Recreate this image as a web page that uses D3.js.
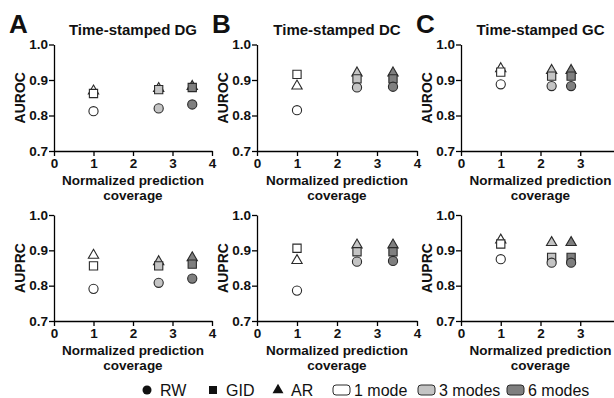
<!DOCTYPE html>
<html>
<head>
<meta charset="utf-8">
<script src="https://cdn.jsdelivr.net/npm/d3@7"></script>
<style>
  body { margin: 0; background: #fff; }
  svg { display: block; font-family: "Liberation Sans", Arial, sans-serif; }
</style>
</head>
<body>
<div id="chart"></div>
<script>
// panels and legend entries
const panelLetters = ['A', 'B', 'C'];
const panelTitles = ['Time-stamped DG', 'Time-stamped DC', 'Time-stamped GC'];
const methods = ['RW', 'GID', 'AR'];
const modes = ['1 mode', '3 modes', '6 modes'];
const modeColors = ['#ffffff', '#c4c4c4', '#7f7f7f'];

// normalized prediction coverage per panel, one value per mode
const coverage = [
  [1, 2.65, 3.5],
  [1, 2.5, 3.4],
  [1, 2.28, 2.77],
];

// AUROC [panel][mode]
const aurocRW = [[0.812, 0.820, 0.831], [0.815, 0.879, 0.881], [0.888, 0.883, 0.883]];
const aurocGID = [[0.862, 0.873, 0.879], [0.916, 0.903, 0.903], [0.922, 0.911, 0.911]];
const aurocAR = [[0.869, 0.876, 0.882], [0.883, 0.920, 0.920], [0.932, 0.927, 0.927]];

// AUPRC [panel][mode]
const auprcRW = [[0.791, 0.808, 0.820], [0.786, 0.868, 0.870], [0.875, 0.865, 0.865]];
const auprcGID = [[0.856, 0.856, 0.861], [0.906, 0.896, 0.896], [0.918, 0.880, 0.880]];
const auprcAR = [[0.886, 0.868, 0.879], [0.871, 0.915, 0.915], [0.929, 0.922, 0.922]];

const yTicks = [0.7, 0.8, 0.9, 1.0];
const xTicksFull = [0, 1, 2, 3, 4];
const xTicksC = [0, 1, 2, 3];

const width = 614, height = 398;

const svg = d3.select('#chart')
  .append('svg')
  .attr('width', width)
  .attr('height', height);

svg.append('rect').attr('width', width).attr('height', height).attr('fill', '#fff');

// pixel frame of each panel (left axis x, right end of 0..4)
const panelX = [[54, 212], [257, 417], [461, 620]];
const rowY = [[151, 44.5], [321, 215]];
const rowLabels = ['AUROC', 'AUPRC'];
const rowData = [
  { RW: aurocRW, GID: aurocGID, AR: aurocAR },
  { RW: auprcRW, GID: auprcGID, AR: auprcAR },
];

const symbolOf = {
  RW: d3.symbol().type(d3.symbolCircle).size(66),
  GID: d3.symbol().type(d3.symbolSquare).size(68),
  AR: d3.symbol().type(d3.symbolTriangle).size(46),
};

function drawPanel(p, r) {
  const x = d3.scaleLinear().domain([0, 4]).range(panelX[p]);
  const y = d3.scaleLinear().domain([0.7, 1.0]).range(rowY[r]);
  const g = svg.append('g');

  const yAxis = d3.axisLeft(y).tickValues(yTicks).tickFormat(d3.format('.1f'))
    .tickSize(5).tickSizeOuter(0).tickPadding(1);
  const xAxis = d3.axisBottom(x).tickValues(p === 2 ? xTicksC : xTicksFull)
    .tickFormat(d3.format('d'))
    .tickSize(5).tickSizeOuter(0).tickPadding(2);

  const ya = g.append('g').attr('transform', `translate(${x(0)},0)`).call(yAxis);
  const xa = g.append('g').attr('transform', `translate(0,${y(0.7)})`).call(xAxis);
  [ya, xa].forEach(a => {
    a.selectAll('path, line').attr('stroke', '#000').attr('stroke-width', 1.3);
    a.selectAll('text').attr('fill', '#111').style('font-size', '13.5px').style('font-weight', 'bold');
  });

  // y axis title
  g.append('text')
    .attr('transform', `translate(${x(0) - 29},${(y(0.7) + y(1.0)) / 2}) rotate(-90)`)
    .attr('text-anchor', 'middle')
    .style('font-size', '14px').style('font-weight', 'bold').attr('fill', '#111')
    .text(rowLabels[r]);

  // x axis title (two lines)
  const cx = (x(0) + x(4)) / 2;
  const xt = g.append('text')
    .attr('text-anchor', 'middle')
    .style('font-size', '13.5px').style('font-weight', 'bold').attr('fill', '#111');
  xt.append('tspan').attr('x', cx).attr('y', y(0.7) + 34).text('Normalized prediction');
  xt.append('tspan').attr('x', cx).attr('y', y(0.7) + 49).text('coverage');

  if (r === 0) {
    g.append('text')
      .attr('x', cx).attr('y', 35)
      .attr('text-anchor', 'middle')
      .style('font-size', '15px').style('font-weight', 'bold').attr('fill', '#111')
      .text(panelTitles[p]);
    g.append('text')
      .attr('x', x(0) - 45).attr('y', 33)
      .style('font-size', '26px').style('font-weight', 'bold').attr('fill', '#111')
      .text(panelLetters[p]);
  }

  // points: AR drawn first, then GID, then RW
  const pts = [];
  ['AR', 'GID', 'RW'].forEach(m => {
    modes.forEach((mode, i) => {
      pts.push({ m, i, cov: coverage[p][i], v: rowData[r][m][p][i] });
    });
  });
  g.selectAll('path.pt')
    .data(pts)
    .enter()
    .append('path')
    .attr('class', 'pt')
    .attr('transform', d => `translate(${x(d.cov)},${y(d.v)})`)
    .attr('d', d => symbolOf[d.m]())
    .attr('fill', d => modeColors[d.i])
    .attr('stroke', '#2a2a2a')
    .attr('stroke-width', 1.1);
}

for (let r = 0; r < 2; r++) {
  for (let p = 0; p < 3; p++) drawPanel(p, r);
}

// legend
const legend = svg.append('g').attr('transform', 'translate(0,390)');
const methodX = [147, 213, 278];
methods.forEach((m, i) => {
  legend.append('path')
    .attr('transform', `translate(${methodX[i]},0)`)
    .attr('d', symbolOf[m].size(m === 'AR' ? 52 : 64)())
    .attr('fill', '#111');
  legend.append('text')
    .attr('x', methodX[i] + 13).attr('y', 6)
    .style('font-size', '16px').attr('fill', '#111')
    .text(m);
});
const modeX = [333, 418, 507];
modes.forEach((mode, i) => {
  legend.append('rect')
    .attr('x', modeX[i]).attr('y', -5)
    .attr('width', 17).attr('height', 10)
    .attr('rx', 3)
    .attr('fill', modeColors[i])
    .attr('stroke', '#2a2a2a').attr('stroke-width', 1);
  legend.append('text')
    .attr('x', modeX[i] + 21).attr('y', 6)
    .style('font-size', '16px').attr('fill', '#111')
    .text(mode);
});
</script>
</body>
</html>
